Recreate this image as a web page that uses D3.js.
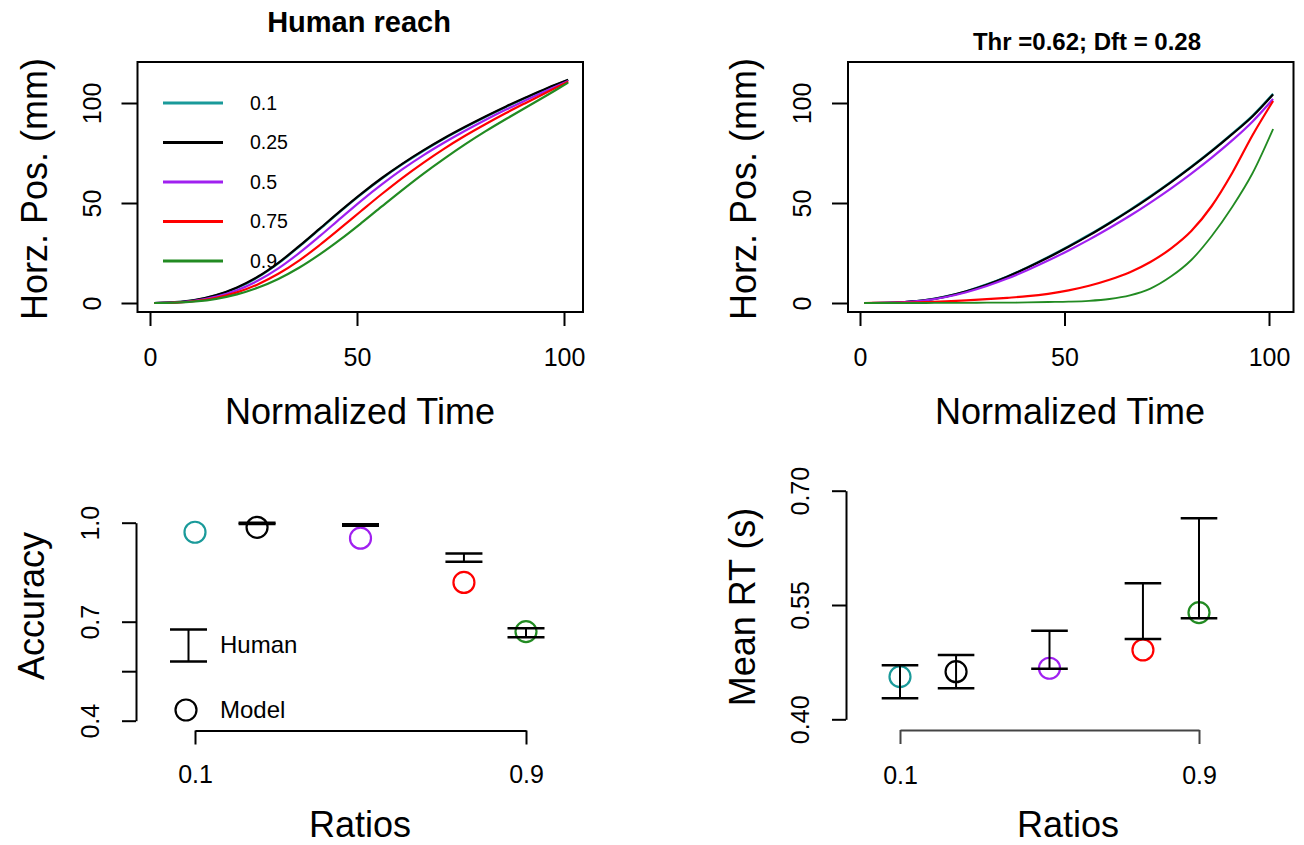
<!DOCTYPE html>
<html><head><meta charset="utf-8">
<script src="https://cdn.jsdelivr.net/npm/d3@7"></script>
<style>
body{margin:0;background:#fff}
svg{display:block}
</style>
</head><body>
<svg id="c" width="1304" height="845"></svg>
<script>
// ---------- data ----------
const ratioLabels = ["0.1", "0.25", "0.5", "0.75", "0.9"];
const ratios = [0.1, 0.25, 0.5, 0.75, 0.9];
const seriesColors = ["#1a9a9a", "#000000", "#a020f0", "#ff0000", "#228b22"];

const timePoints = [1, 6, 11, 16, 21, 26, 31, 36, 41, 46, 51, 56, 61, 66, 71, 76, 81, 86, 91, 96, 101];

// Human reach (top-left), one array per ratio
const human_0_1  = [0, 0.4, 1.5, 3.8, 7.5, 12.8, 19.8, 28.1, 36.9, 45.8, 54.3, 62.2, 69.4, 76, 82.1, 87.7, 93, 98, 102.8, 107.3, 111.5];
const human_0_25 = [0, 0.4, 1.6, 4.0, 7.8, 13.1, 20.1, 28.4, 37.2, 46.1, 54.6, 62.5, 69.7, 76.3, 82.4, 88.0, 93.3, 98.3, 103, 107.5, 111.6];
const human_0_5  = [0, 0.3, 1.2, 3.2, 6.4, 11.1, 17.3, 24.9, 33.4, 42.3, 51.1, 59.3, 66.9, 73.8, 80.1, 86.0, 91.5, 96.7, 101.6, 106.4, 111];
const human_0_75 = [0, 0.2, 1.0, 2.6, 5.3, 9.3, 14.6, 21.2, 29.0, 37.4, 46.0, 54.5, 62.6, 70.1, 77.1, 83.5, 89.4, 95.0, 100.3, 105.5, 110.6];
const human_0_9  = [0, 0.15, 0.8, 2.1, 4.3, 7.6, 12.0, 17.6, 24.3, 31.8, 39.9, 48.3, 56.6, 64.6, 72.1, 79.2, 85.8, 92.0, 98.0, 104.0, 110.2];

// Model reach (top-right), Thr = 0.62; Dft = 0.28
const model_0_1  = [0, 0.1, 0.5, 1.4, 3.3, 5.9, 9.3, 13.3, 17.9, 23, 28.4, 34.1, 40.2, 46.6, 53.4, 60.6, 68.2, 76.2, 84.7, 93.7, 104.6];
const model_0_25 = [0, 0.1, 0.5, 1.4, 3.2, 5.8, 9.1, 13.1, 17.7, 22.7, 28.1, 33.8, 39.9, 46.3, 53.1, 60.3, 67.9, 75.9, 84.4, 93.4, 104.3];
const model_0_5  = [0, 0.1, 0.5, 1.3, 3, 5.4, 8.5, 12.2, 16.5, 21.2, 26.3, 31.7, 37.5, 43.6, 50.2, 57.2, 64.7, 72.7, 81.3, 90.8, 102];
const model_0_75 = [0, 0.05, 0.2, 0.4, 0.8, 1.3, 1.9, 2.6, 3.4, 4.6, 6.3, 8.6, 11.6, 15.4, 20.5, 27.2, 36, 48.5, 65, 84, 101];
const model_0_9  = [0, 0, 0, 0, 0.05, 0.1, 0.15, 0.2, 0.3, 0.5, 0.7, 1.1, 2, 3.8, 7.2, 13.2, 21.5, 33.5, 48, 65, 87];

// Accuracy (bottom-left)
const accModel = [0.971, 0.986, 0.953, 0.819, 0.670];
const accHumanLow  = [null, 0.996, 0.991, 0.882, 0.653];
const accHumanHigh = [null, 1.000, 0.995, 0.907, 0.680];

// Mean RT (bottom-right)
const rtModel = [0.456, 0.4625, 0.467, 0.491, 0.540];
const rtHumanLow  = [0.4276, 0.4407, 0.4664, 0.5054, 0.5325];
const rtHumanHigh = [0.471, 0.4844, 0.5163, 0.5785, 0.6638];

// Ticks
const timeTicks = [0, 50, 100];
const timeTickLabels = ["0", "50", "100"];
const posTicks = [0, 50, 100];
const posTickLabels = ["0", "50", "100"];
const accTicks = [0.4, 0.55, 0.7, 1.0];
const accTickLabels = ["0.4", "", "0.7", "1.0"];
const rtTicks = [0.40, 0.55, 0.70];
const rtTickLabels = ["0.40", "0.55", "0.70"];
const ratioTicks = [0.1, 0.9];
const ratioTickLabels = ["0.1", "0.9"];

// ---------- drawing ----------
const FONT = '"Liberation Sans", Arial, Helvetica, sans-serif';
const svg = d3.select("#c");

function yAxisR(g, scale, ticks, labels, tickLen, drawDomain) {
  g.call(d3.axisLeft(scale).tickValues(ticks).tickFormat((d, i) => labels[i]).tickSize(tickLen).tickSizeOuter(0));
  g.attr("font-family", FONT).attr("font-size", 25);
  g.selectAll("line,path").attr("stroke", "#000").attr("stroke-width", 2);
  if (!drawDomain) g.select(".domain").remove();
  g.selectAll(".tick text").attr("x", 0).attr("y", 0).attr("dy", "0.35em")
    .attr("fill", "#000").attr("text-anchor", "middle")
    .attr("transform", "translate(-45.5,0) rotate(-90)");
}
function xAxisR(g, scale, ticks, labels, labelOff, drawDomain, col) {
  g.call(d3.axisBottom(scale).tickValues(ticks).tickFormat((d, i) => labels[i]).tickSize(14).tickSizeOuter(0));
  g.attr("font-family", FONT).attr("font-size", 25);
  g.selectAll("line,path").attr("stroke", col || "#000").attr("stroke-width", 2);
  if (!drawDomain) g.select(".domain").remove();
  g.selectAll(".tick text").attr("y", labelOff).attr("dy", "0.35em").attr("fill", "#000");
}
function label(x, y, txt, size, opts = {}) {
  const t = svg.append("text").attr("font-family", FONT).attr("font-size", size)
    .attr("fill", "#000").attr("text-anchor", opts.anchor || "middle").text(txt);
  if (opts.bold) t.attr("font-weight", "bold");
  if (opts.rotate) {
    t.attr("transform", `translate(${x},${y}) rotate(-90)`).attr("dy", "0.35em");
  } else {
    t.attr("x", x).attr("y", y).attr("dy", opts.dy || "0.35em");
  }
  return t;
}

// ===== Top-left: Human reach =====
{
  const box = {l: 137.5, r: 583, t: 62, b: 312};
  const x = d3.scaleLinear().domain([0, 100]).range([150, 564]);
  const y = d3.scaleLinear().domain([0, 100]).range([303, 103]);
  const g = svg.append("g");
  const series = [human_0_1, human_0_25, human_0_5, human_0_75, human_0_9];
  const line = d3.line().x(d => x(d[0])).y(d => y(d[1])).curve(d3.curveCatmullRom.alpha(0.5));
  series.forEach((s, i) => {
    g.append("path").attr("d", line(timePoints.map((t, j) => [t, s[j]])))
      .attr("fill", "none").attr("stroke", seriesColors[i]).attr("stroke-width", 2.2);
  });
  g.append("rect").attr("x", box.l).attr("y", box.t).attr("width", box.r - box.l).attr("height", box.b - box.t)
    .attr("fill", "none").attr("stroke", "#000").attr("stroke-width", 2);
  yAxisR(svg.append("g").attr("transform", `translate(${box.l},0)`), y, posTicks, posTickLabels, 16, false);
  xAxisR(svg.append("g").attr("transform", `translate(0,${box.b})`), x, timeTicks, timeTickLabels, 45, false);
  // legend
  const legY = d3.scalePoint().domain(ratioLabels).range([103, 261]);
  ratioLabels.forEach((r, i) => {
    svg.append("line").attr("x1", 163).attr("x2", 223).attr("y1", legY(r)).attr("y2", legY(r))
      .attr("stroke", seriesColors[i]).attr("stroke-width", 3);
    label(250, legY(r), r, 19.5, {anchor: "start"});
  });
  label(359, 22, "Human reach", 29, {bold: true});
  label(34, 189, "Horz. Pos. (mm)", 36, {rotate: true});
  label(360, 411, "Normalized Time", 36);
}

// ===== Top-right: model reach =====
{
  const box = {l: 848, r: 1293.5, t: 62, b: 312};
  const x = d3.scaleLinear().domain([0, 100]).range([860, 1269]);
  const y = d3.scaleLinear().domain([0, 100]).range([303, 103]);
  const g = svg.append("g");
  const series = [model_0_1, model_0_25, model_0_5, model_0_75, model_0_9];
  const line = d3.line().x(d => x(d[0])).y(d => y(d[1])).curve(d3.curveMonotoneX);
  series.forEach((s, i) => {
    g.append("path").attr("d", line(timePoints.map((t, j) => [t, s[j]])))
      .attr("fill", "none").attr("stroke", seriesColors[i]).attr("stroke-width", i === 4 ? 1.8 : 2.2);
  });
  g.append("rect").attr("x", box.l).attr("y", box.t).attr("width", box.r - box.l).attr("height", box.b - box.t)
    .attr("fill", "none").attr("stroke", "#000").attr("stroke-width", 2);
  yAxisR(svg.append("g").attr("transform", `translate(${box.l},0)`), y, posTicks, posTickLabels, 16, false);
  xAxisR(svg.append("g").attr("transform", `translate(0,${box.b})`), x, timeTicks, timeTickLabels, 45, false);
  label(1087, 42, "Thr =0.62; Dft = 0.28", 24, {bold: true});
  label(743, 189, "Horz. Pos. (mm)", 36, {rotate: true});
  label(1070, 411, "Normalized Time", 36);
}

function errorBars(g, x, y, lows, highs, half) {
  ratios.forEach((r, i) => {
    if (lows[i] == null) return;
    const cx = x(r);
    g.append("line").attr("x1", cx).attr("x2", cx).attr("y1", y(lows[i])).attr("y2", y(highs[i]))
      .attr("stroke", "#000").attr("stroke-width", 2);
    [lows[i], highs[i]].forEach(v => {
      g.append("line").attr("x1", cx - half).attr("x2", cx + half).attr("y1", y(v)).attr("y2", y(v))
        .attr("stroke", "#000").attr("stroke-width", 2.5);
    });
  });
}
function points(g, x, y, vals) {
  ratios.forEach((r, i) => {
    g.append("circle").attr("cx", x(r)).attr("cy", y(vals[i])).attr("r", 10.5)
      .attr("fill", "none").attr("stroke", seriesColors[i]).attr("stroke-width", 2.2);
  });
}

// ===== Bottom-left: Accuracy =====
{
  const x = d3.scaleLinear().domain([0.1, 0.9]).range([195, 526]);
  const y = d3.scaleLinear().domain([0.4, 1.0]).range([720.7, 522.7]);
  const g = svg.append("g");
  points(g, x, y, accModel);
  errorBars(g, x, y, accHumanLow, accHumanHigh, 18.5);
  yAxisR(svg.append("g").attr("transform", "translate(136,0)"), y, accTicks, accTickLabels, 14, true);
  xAxisR(svg.append("g").attr("transform", "translate(0,730.5)"), x, ratioTicks, ratioTickLabels, 43.5, true);
  // legend
  const lx = 188.5;
  svg.append("line").attr("x1", lx).attr("x2", lx).attr("y1", 629.5).attr("y2", 661.5).attr("stroke", "#000").attr("stroke-width", 2);
  [629.5, 661.5].forEach(v => svg.append("line").attr("x1", lx - 18.5).attr("x2", lx + 18.5).attr("y1", v).attr("y2", v)
    .attr("stroke", "#000").attr("stroke-width", 2.5));
  label(220, 645, "Human", 24, {anchor: "start"});
  svg.append("circle").attr("cx", 186).attr("cy", 710).attr("r", 10.5).attr("fill", "none").attr("stroke", "#000").attr("stroke-width", 2.2);
  label(220, 710, "Model", 24, {anchor: "start"});
  label(31, 606, "Accuracy", 36, {rotate: true});
  label(360, 824, "Ratios", 36);
}

// ===== Bottom-right: Mean RT =====
{
  const x = d3.scaleLinear().domain([0.1, 0.9]).range([900, 1199]);
  const y = d3.scaleLinear().domain([0.40, 0.70]).range([719.3, 490.7]);
  const g = svg.append("g");
  points(g, x, y, rtModel);
  errorBars(g, x, y, rtHumanLow, rtHumanHigh, 18.3);
  yAxisR(svg.append("g").attr("transform", "translate(846,0)"), y, rtTicks, rtTickLabels, 14, true);
  xAxisR(svg.append("g").attr("transform", "translate(0,730)"), x, ratioTicks, ratioTickLabels, 45, true, "#444");
  label(742, 607, "Mean RT (s)", 36, {rotate: true});
  label(1068, 824, "Ratios", 36);
}
</script>
</body></html>
